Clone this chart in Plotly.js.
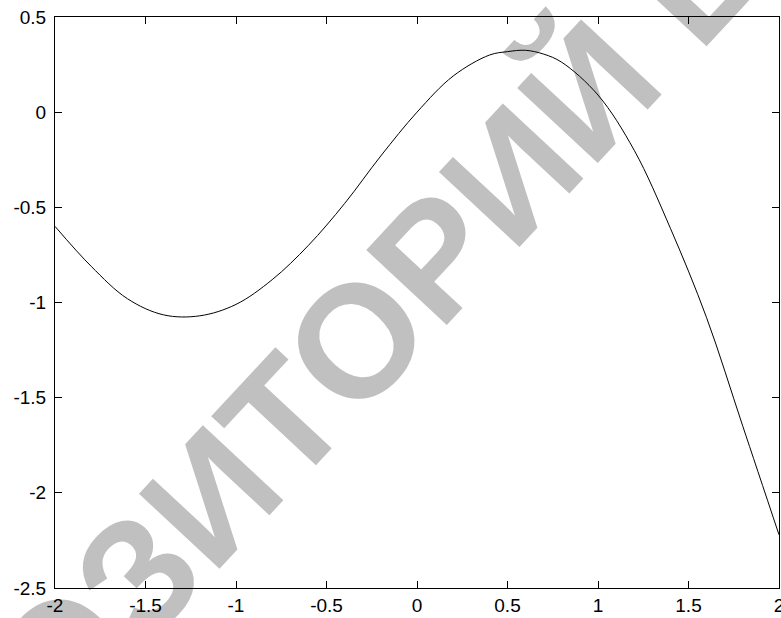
<!DOCTYPE html>
<html>
<head>
<meta charset="utf-8">
<script src="https://cdn.plot.ly/plotly-3.0.1.min.js"></script>
<style>html,body{margin:0;padding:0;background:#fff;}#chart{width:781px;height:618px;}</style>
</head>
<body>
<div id="chart"></div>
<script>
// Curve values
const xValues = [-2.0, -1.8, -1.6, -1.4, -1.2, -1.0, -0.8, -0.6, -0.4, -0.2, 0.0, 0.2, 0.4, 0.5, 0.6, 0.7, 0.8, 1.0, 1.2, 1.4, 1.6, 1.8, 2.0];
const yValues = [-0.60, -0.81, -0.98, -1.065, -1.07, -1.01, -0.88, -0.70, -0.48, -0.23, 0.00, 0.19, 0.30, 0.318, 0.325, 0.305, 0.262, 0.09, -0.20, -0.61, -1.08, -1.65, -2.22];

// Tick labels
const xTickVals = [-2, -1.5, -1, -0.5, 0, 0.5, 1, 1.5, 2];
const xTickText = ['-2', '-1.5', '-1', '-0.5', '0', '0.5', '1', '1.5', '2'];
const yTickVals = [-2.5, -2, -1.5, -1, -0.5, 0, 0.5];
const yTickText = ['-2.5', '-2', '-1.5', '-1', '-0.5', '0', '0.5'];

const watermarkText = '<b>РЕПОЗИТОРИЙ БГУИР</b>';

const trace = {
  x: xValues,
  y: yValues,
  type: 'scatter',
  mode: 'lines',
  line: {color: '#000000', width: 1, shape: 'spline', smoothing: 1},
  hoverinfo: 'none'
};

const axisCommon = {
  showgrid: false,
  zeroline: false,
  showline: true,
  linecolor: '#000000',
  linewidth: 1,
  mirror: 'ticks',
  ticks: 'inside',
  ticklen: 7,
  tickwidth: 1,
  tickcolor: '#000000',
  tickmode: 'array',
  ticklabeloverflow: 'allow',
  tickfont: {family: 'Liberation Sans, Arial, sans-serif', size: 19, color: '#000000'}
};

const layout = {
  width: 781,
  height: 618,
  margin: {l: 55, r: 2, t: 17, b: 30},
  paper_bgcolor: '#ffffff',
  plot_bgcolor: 'rgba(0,0,0,0)',
  showlegend: false,
  xaxis: Object.assign({}, axisCommon, {range: [-2, 2], tickvals: xTickVals, ticktext: xTickText, ticklabelstandoff: 0}),
  yaxis: Object.assign({}, axisCommon, {range: [-2.5, 0.5], tickvals: yTickVals, ticktext: yTickText, ticklabelstandoff: 4}),
  shapes: [{
    type: 'rect', xref: 'paper', yref: 'paper',
    x0: 0.469, x1: 0.471, y0: 0.544, y1: 0.546,
    line: {width: 0}, fillcolor: 'rgba(0,0,0,0)', layer: 'below',
    label: {
      text: watermarkText,
      textangle: -47,
      textposition: 'middle center',
      font: {family: 'Liberation Sans, Arial, sans-serif', size: 160, color: '#c0c0c0'}
    }
  }]
};

Plotly.newPlot('chart', [trace], layout, {displayModeBar: false, staticPlot: true});
</script>
</body>
</html>
